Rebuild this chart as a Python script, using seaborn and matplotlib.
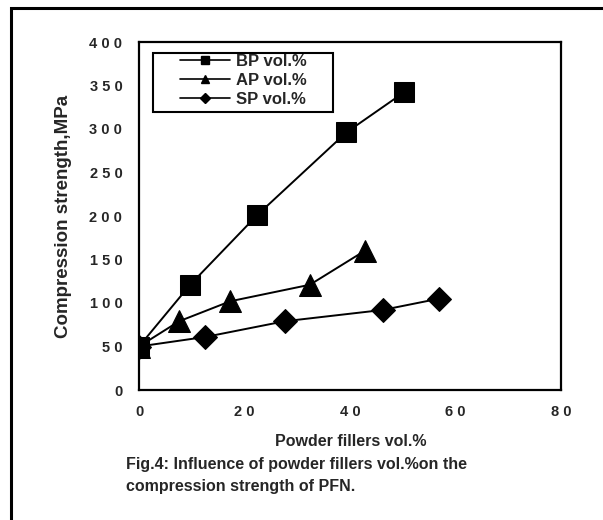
import matplotlib
matplotlib.use("Agg")
import matplotlib.pyplot as plt
import seaborn as sns
import pandas as pd
from matplotlib.lines import Line2D
from matplotlib.patches import Rectangle

# data
bp_x = [0, 9.7, 22.4, 39.3, 50.2]
bp_y = [50, 121, 201, 296, 342]
ap_x = [0, 7.6, 17.3, 32.4, 42.8]
ap_y = [50, 79, 102, 121, 160]
sp_x = [0, 12.6, 27.6, 46.2, 56.9]
sp_y = [50, 61, 79, 92, 105]
series = ["BP vol.%", "AP vol.%", "SP vol.%"]
x_ticks = [0, 20, 40, 60, 80]
y_ticks = [0, 50, 100, 150, 200, 250, 300, 350, 400]

df = pd.concat([
    pd.DataFrame({"x": bp_x, "y": bp_y, "s": series[0]}),
    pd.DataFrame({"x": ap_x, "y": ap_y, "s": series[1]}),
    pd.DataFrame({"x": sp_x, "y": sp_y, "s": series[2]}),
])

sns.set_style("white")
plt.rcParams["font.family"] = ["Liberation Sans", "DejaVu Sans"]
plt.rcParams["font.weight"] = "bold"

fig = plt.figure(figsize=(6.03, 5.2), dpi=100)
fig.patch.set_facecolor("white")
# outer frame of the figure panel
fig.patches.append(Rectangle((11 / 603, -0.05), 1.2, 1 - 8 / 520 + 0.05, transform=fig.transFigure,
                             fill=False, edgecolor="black", linewidth=2.2))
ax = fig.add_axes([139 / 603, 1 - 390 / 520, (561 - 139) / 603, (390 - 42) / 520])

markers = {"BP vol.%": "s", "AP vol.%": "^", "SP vol.%": "D"}
sizes = {"BP vol.%": 15, "AP vol.%": 16, "SP vol.%": 12}
for name in series:
    d = df[df.s == name]
    sns.lineplot(data=d, x="x", y="y", ax=ax, color="black", linewidth=1.4,
                 marker=markers[name], markersize=sizes[name], markeredgecolor="black",
                 markerfacecolor="black", sort=False, estimator=None, legend=False)

ax.set_xlim(0, 80)
ax.set_ylim(0, 400)
ax.set_xticks(x_ticks)
ax.set_yticks(y_ticks)
# the source prints tick numbers with wide letter spacing
spaced = matplotlib.ticker.FuncFormatter(lambda v, p: " ".join(str(int(v))))
ax.xaxis.set_major_formatter(spaced)
ax.yaxis.set_major_formatter(spaced)
ax.tick_params(axis="both", direction="out", length=4, width=1.3, labelsize=10.5)
ax.tick_params(axis="y", pad=8)
ax.tick_params(axis="x", pad=7)
for lab in ax.get_xticklabels() + ax.get_yticklabels():
    lab.set_fontweight("bold")
for sp in ax.spines.values():
    sp.set_linewidth(1.6)
    sp.set_color("black")
ax.set_xlabel("Powder fillers vol.%", fontsize=11.5, fontweight="bold")
ax.xaxis.set_label_coords(0.502, -0.149)
ax.xaxis.label.set_va("center")
ax.set_ylabel("Compression strength,MPa", fontsize=13.5, fontweight="heavy")
ax.yaxis.set_label_coords(-0.178, 0.5)
ax.yaxis.label.set_va("center")

handles = [Line2D([0], [0], color="black", linewidth=1.2, marker=markers[n], markersize=5.5,
                  markerfacecolor="black", markeredgecolor="black") for n in series]
leg = ax.legend(handles, series, loc="upper left", bbox_to_anchor=((180 - 139) / 422, (390 - 54) / 348),
                frameon=False, prop={"size": 12, "weight": "bold"}, handlelength=3.0,
                handletextpad=0.35, labelspacing=0.25, borderpad=0, borderaxespad=0)
for t in leg.get_texts():
    t.set_fontweight("bold")
ax.add_patch(Rectangle(((153 - 139) / 422, (390 - 112) / 348), (333 - 153) / 422, (112 - 53) / 348,
                       transform=ax.transAxes, fill=False, edgecolor="black", linewidth=1.5, zorder=5))

fig.text(126 / 603, 1 - 465 / 520, "Fig.4: Influence of powder fillers vol.%on the",
         fontsize=11.5, fontweight="bold", va="center", ha="left")
fig.text(126 / 603, 1 - 487 / 520, "compression strength of PFN.",
         fontsize=11.5, fontweight="bold", va="center", ha="left")

fig.savefig("out.png", dpi=100)
